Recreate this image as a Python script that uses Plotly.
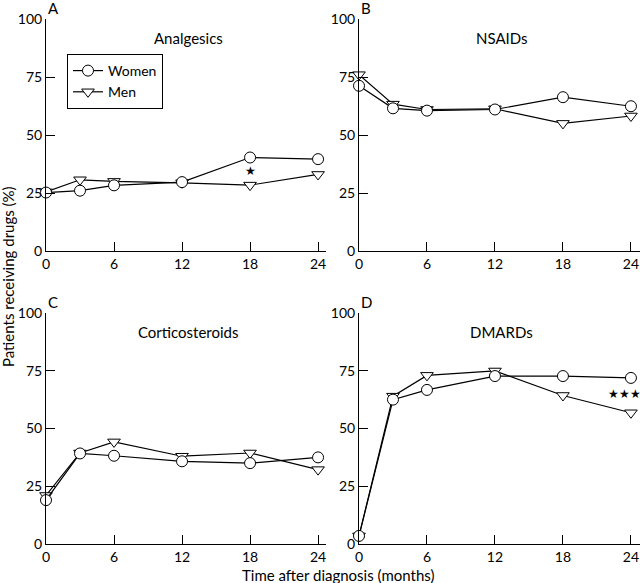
import plotly.graph_objects as go

months = [0, 3, 6, 12, 18, 24]

analgesics_women = [25.2, 26.0, 28.3, 29.7, 40.3, 39.6]
analgesics_men = [25.5, 30.7, 30.0, 29.4, 28.4, 33.0]

nsaids_women = [71.2, 61.5, 60.5, 61.0, 66.3, 62.4]
nsaids_men = [76.0, 63.3, 61.0, 61.3, 55.0, 58.2]

cortico_women = [19.0, 39.2, 38.2, 35.8, 35.0, 37.5]
cortico_men = [21.0, 39.4, 44.2, 38.0, 39.4, 32.2]

dmards_women = [3.5, 62.5, 66.7, 72.7, 72.7, 71.9]
dmards_men = [3.5, 64.0, 73.0, 74.9, 64.3, 56.8]

panels = [
    ("A", "Analgesics", analgesics_women, analgesics_men),
    ("B", "NSAIDs", nsaids_women, nsaids_men),
    ("C", "Corticosteroids", cortico_women, cortico_men),
    ("D", "DMARDs", dmards_women, dmards_men),
]

W, H = 640, 583
FONT = "Lato, 'DejaVu Sans', sans-serif"

# pixel boxes of each plot area: (left, right, top(y=100), bottom(y=0))
boxes = [(46, 326, 19, 251), (359, 640, 19, 251),
         (46, 326, 313, 544), (359, 640, 313, 544)]
xmax = [24.7, 24.8, 24.7, 24.8]

fig = go.Figure()
layout = {}
for i, (letter, name, women, men) in enumerate(panels):
    n = "" if i == 0 else str(i + 1)
    xa, ya = "x" + n, "y" + n
    fig.add_trace(go.Scatter(
        x=months, y=men, name="Men", xaxis=xa, yaxis=ya,
        mode="lines+markers", showlegend=(i == 0), legendrank=2,
        cliponaxis=False,
        line=dict(color="black", width=1.2),
        marker=dict(symbol="triangle-down", size=11, color="white",
                    line=dict(color="black", width=1))))
    fig.add_trace(go.Scatter(
        x=months, y=women, name="Women", xaxis=xa, yaxis=ya,
        mode="lines+markers", showlegend=(i == 0), legendrank=1,
        cliponaxis=False,
        line=dict(color="black", width=1.2),
        marker=dict(symbol="circle", size=11, color="white",
                    line=dict(color="black", width=1))))
    l, r, t, b = boxes[i]
    axis_common = dict(showgrid=False, zeroline=False, showline=True,
                       linecolor="black", linewidth=1, ticks="inside",
                       ticklen=9, tickcolor="black", automargin=False,
                       tickfont=dict(family=FONT, size=14, color="black"))
    layout["xaxis" + n] = dict(axis_common, domain=[l / W, r / W],
                               range=[0, xmax[i]], tickvals=[0, 6, 12, 18, 24],
                               anchor=ya)
    layout["yaxis" + n] = dict(axis_common, domain=[1 - b / H, 1 - t / H],
                               range=[0, 100], tickvals=[0, 25, 50, 75, 100],
                               anchor=xa)
    fig.add_annotation(x=12.6, y=91.8, xref=xa, yref=ya, text=name,
                       showarrow=False, xanchor="center", yanchor="middle",
                       font=dict(family=FONT, size=15, color="black"))
    fig.add_annotation(x=(l + 7) / W, y=1 - (t - 11) / H, xref="paper",
                       yref="paper", text=letter, showarrow=False,
                       xanchor="center", yanchor="middle",
                       font=dict(family=FONT, size=15, color="black"))

fig.add_annotation(x=18, y=34.7, xref="x", yref="y", text="★",
                   showarrow=False, xanchor="center", yanchor="middle",
                   font=dict(size=12, color="black"))
fig.add_annotation(x=23.45, y=65, xref="x4", yref="y4", text="★★★",
                   showarrow=False, xanchor="center", yanchor="middle",
                   font=dict(size=12, color="black"))

fig.add_annotation(x=8 / W, y=1 - 277 / H, xref="paper", yref="paper",
                   text="Patients receiving drugs (%)", textangle=-90,
                   showarrow=False, xanchor="center", yanchor="middle",
                   font=dict(family=FONT, size=15, color="black"))
fig.add_annotation(x=338 / W, y=1 - 575 / H, xref="paper", yref="paper",
                   text="Time after diagnosis (months)", showarrow=False,
                   xanchor="center", yanchor="middle",
                   font=dict(family=FONT, size=15, color="black"))

fig.update_layout(
    **layout,
    width=W, height=H,
    margin=dict(l=0, r=0, t=0, b=0),
    plot_bgcolor="white", paper_bgcolor="white",
    legend=dict(x=67 / W, y=1 - 54 / H, xanchor="left", yanchor="top",
                bordercolor="black", borderwidth=1, bgcolor="white",
                font=dict(family=FONT, size=14, color="black"),
                tracegroupgap=0),
)

# the page's default body margin would shift the figure by 8px
fig.write_html("out.html", config={"displayModeBar": False},
               post_script="document.body.style.margin='0';"
                           "document.body.style.overflow='hidden';")
